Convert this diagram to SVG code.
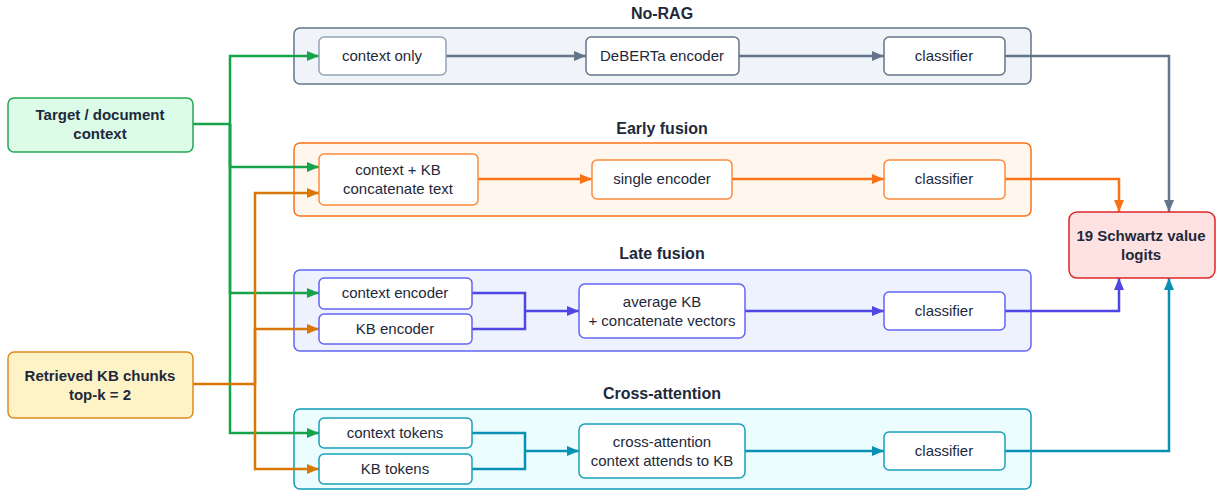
<svg xmlns="http://www.w3.org/2000/svg" width="1217" height="490" viewBox="0 0 1217 490">
<style>
text{font-family:"Liberation Sans",Arial,sans-serif;fill:#1e293b;text-anchor:middle}
.t{font-size:15px}
.b{font-size:15px;font-weight:bold}
.h{font-size:16px;font-weight:bold}
.box{fill:#ffffff;stroke-width:1.5}
.c{fill:none;stroke-width:2.5}
</style>
<defs>
<marker id="mG" viewBox="0 0 12 10" refX="12" refY="5" markerWidth="12" markerHeight="10" markerUnits="userSpaceOnUse" orient="auto"><path d="M0,0L12,5L0,10z" fill="#16a34a"/></marker>
<marker id="mO" viewBox="0 0 12 10" refX="12" refY="5" markerWidth="12" markerHeight="10" markerUnits="userSpaceOnUse" orient="auto"><path d="M0,0L12,5L0,10z" fill="#d97706"/></marker>
<marker id="mS" viewBox="0 0 12 10" refX="12" refY="5" markerWidth="12" markerHeight="10" markerUnits="userSpaceOnUse" orient="auto"><path d="M0,0L12,5L0,10z" fill="#64748b"/></marker>
<marker id="mE" viewBox="0 0 12 10" refX="12" refY="5" markerWidth="12" markerHeight="10" markerUnits="userSpaceOnUse" orient="auto"><path d="M0,0L12,5L0,10z" fill="#f97316"/></marker>
<marker id="mP" viewBox="0 0 12 10" refX="12" refY="5" markerWidth="12" markerHeight="10" markerUnits="userSpaceOnUse" orient="auto"><path d="M0,0L12,5L0,10z" fill="#4f46e5"/></marker>
<marker id="mT" viewBox="0 0 12 10" refX="12" refY="5" markerWidth="12" markerHeight="10" markerUnits="userSpaceOnUse" orient="auto"><path d="M0,0L12,5L0,10z" fill="#0891b2"/></marker>
</defs>
<rect width="1217" height="490" fill="#ffffff"/>

<g id="group-norag">
<rect x="294" y="28" width="737" height="56" rx="6" fill="#f0f4f9" stroke="#64748b" stroke-width="1.5"/>
<text class="h" x="662" y="19">No-RAG</text>
</g>
<g id="group-early">
<rect x="294" y="143" width="737" height="73" rx="6" fill="#fff6ed" stroke="#f97316" stroke-width="1.5"/>
<text class="h" x="662" y="134">Early fusion</text>
</g>
<g id="group-late">
<rect x="294" y="270" width="737" height="81" rx="6" fill="#eef1fe" stroke="#6366f1" stroke-width="1.5"/>
<text class="h" x="662" y="259">Late fusion</text>
</g>
<g id="group-cross">
<rect x="294" y="409" width="737" height="80" rx="6" fill="#ebfdfe" stroke="#0e9bb8" stroke-width="1.5"/>
<text class="h" x="662" y="399">Cross-attention</text>
</g>

<g id="connectors">
<path class="c" stroke="#16a34a" d="M193,124H230V56H319" marker-end="url(#mG)"/>
<path class="c" stroke="#16a34a" d="M230,124V167H319" marker-end="url(#mG)"/>
<path class="c" stroke="#16a34a" d="M230,124V293H319" marker-end="url(#mG)"/>
<path class="c" stroke="#16a34a" d="M230,124V433H319" marker-end="url(#mG)"/>
<path class="c" stroke="#d97706" d="M193,384H255V193H319" marker-end="url(#mO)"/>
<path class="c" stroke="#d97706" d="M255,384V329H319" marker-end="url(#mO)"/>
<path class="c" stroke="#d97706" d="M255,384V469H319" marker-end="url(#mO)"/>

<path class="c" stroke="#64748b" d="M446,56H586" marker-end="url(#mS)"/>
<path class="c" stroke="#64748b" d="M739,56H884" marker-end="url(#mS)"/>
<path class="c" stroke="#64748b" d="M1005,56H1169V212" marker-end="url(#mS)"/>

<path class="c" stroke="#f97316" d="M478,179H592" marker-end="url(#mE)"/>
<path class="c" stroke="#f97316" d="M732,179H884" marker-end="url(#mE)"/>
<path class="c" stroke="#f97316" d="M1005,179H1119V212" marker-end="url(#mE)"/>

<path class="c" stroke="#4f46e5" d="M472,293H525V329H472"/>
<path class="c" stroke="#4f46e5" d="M525,311H579" marker-end="url(#mP)"/>
<path class="c" stroke="#4f46e5" d="M745,311H884" marker-end="url(#mP)"/>
<path class="c" stroke="#4f46e5" d="M1005,311H1119V278" marker-end="url(#mP)"/>

<path class="c" stroke="#0891b2" d="M472,433H525V469H472"/>
<path class="c" stroke="#0891b2" d="M525,451H579" marker-end="url(#mT)"/>
<path class="c" stroke="#0891b2" d="M745,451H884" marker-end="url(#mT)"/>
<path class="c" stroke="#0891b2" d="M1005,451H1169V278" marker-end="url(#mT)"/>
</g>

<g id="target">
<rect x="8" y="98" width="185" height="54" rx="6" fill="#dcfce7" stroke="#22a653" stroke-width="1.5"/>
<text class="b" x="100" y="120">Target / document</text>
<text class="b" x="100" y="139">context</text>
</g>
<g id="retrieved">
<rect x="8" y="352" width="185" height="66" rx="6" fill="#fef3c7" stroke="#e08a1e" stroke-width="1.5"/>
<text class="b" x="100" y="381">Retrieved KB chunks</text>
<text class="b" x="100" y="400">top-k = 2</text>
</g>
<g id="output">
<rect x="1069" y="212" width="146" height="66" rx="8" fill="#fee2e2" stroke="#dc2626" stroke-width="1.5"/>
<text class="b" x="1141" y="241">19 Schwartz value</text>
<text class="b" x="1141" y="260">logits</text>
</g>

<g id="norag-context">
<rect class="box" x="319" y="37" width="127" height="38" rx="5" stroke="#94a3b8"/>
<text class="t" x="382" y="61">context only</text>
</g>
<g id="norag-encoder">
<rect class="box" x="586" y="37" width="153" height="38" rx="5" stroke="#64748b"/>
<text class="t" x="662" y="61">DeBERTa encoder</text>
</g>
<g id="norag-classifier">
<rect class="box" x="884" y="37" width="121" height="38" rx="5" stroke="#64748b"/>
<text class="t" x="944" y="61">classifier</text>
</g>

<g id="early-input">
<rect class="box" x="319" y="154" width="159" height="51" rx="5" stroke="#fb8a3c"/>
<text class="t" x="398" y="175">context + KB</text>
<text class="t" x="398" y="194">concatenate text</text>
</g>
<g id="early-encoder">
<rect class="box" x="592" y="160" width="140" height="39" rx="5" stroke="#fb8a3c"/>
<text class="t" x="662" y="184">single encoder</text>
</g>
<g id="early-classifier">
<rect class="box" x="884" y="160" width="121" height="39" rx="5" stroke="#fb8a3c"/>
<text class="t" x="944" y="184">classifier</text>
</g>

<g id="late-context">
<rect class="box" x="319" y="278" width="153" height="31" rx="5" stroke="#6366f1"/>
<text class="t" x="395" y="298">context encoder</text>
</g>
<g id="late-kb">
<rect class="box" x="319" y="314" width="153" height="30" rx="5" stroke="#6366f1"/>
<text class="t" x="395" y="334">KB encoder</text>
</g>
<g id="late-merge">
<rect class="box" x="579" y="284" width="166" height="54" rx="6" stroke="#6366f1"/>
<text class="t" x="662" y="307">average KB</text>
<text class="t" x="662" y="326">+ concatenate vectors</text>
</g>
<g id="late-classifier">
<rect class="box" x="884" y="292" width="121" height="38" rx="5" stroke="#6366f1"/>
<text class="t" x="944" y="316">classifier</text>
</g>

<g id="cross-context">
<rect class="box" x="319" y="418" width="153" height="30" rx="5" stroke="#1aa0ba"/>
<text class="t" x="395" y="438">context tokens</text>
</g>
<g id="cross-kb">
<rect class="box" x="319" y="454" width="153" height="30" rx="5" stroke="#1aa0ba"/>
<text class="t" x="395" y="474">KB tokens</text>
</g>
<g id="cross-merge">
<rect class="box" x="579" y="424" width="166" height="54" rx="6" stroke="#1aa0ba"/>
<text class="t" x="662" y="447">cross-attention</text>
<text class="t" x="662" y="466">context attends to KB</text>
</g>
<g id="cross-classifier">
<rect class="box" x="884" y="432" width="121" height="38" rx="5" stroke="#1aa0ba"/>
<text class="t" x="944" y="456">classifier</text>
</g>
</svg>
